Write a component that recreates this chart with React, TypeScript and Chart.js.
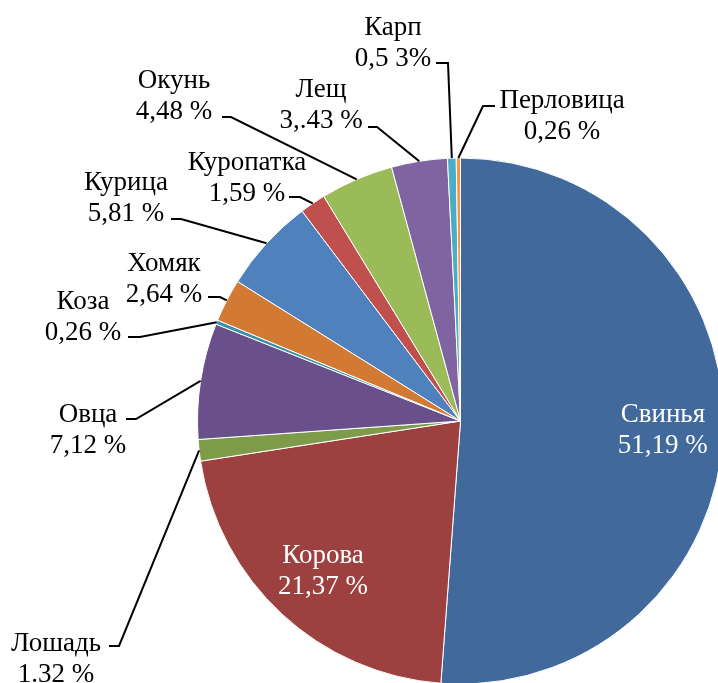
import React, { useEffect, useRef } from "react";
import { Chart, registerables } from "chart.js";

Chart.register(...registerables);

const categories = ["Свинья", "Корова", "Лошадь", "Овца", "Коза", "Хомяк", "Курица", "Куропатка", "Окунь", "Лещ", "Карп", "Перловица"];
const values = [51.19, 21.37, 1.32, 7.12, 0.26, 2.64, 5.81, 1.59, 4.48, 3.43, 0.53, 0.26];
const pctLabels = ["51,19 %", "21,37 %", "1.32 %", "7,12 %", "0,26 %", "2,64 %", "5,81 %", "1,59 %", "4,48 %", "3,.43 %", "0,5 3%", "0,26 %"];
const colors = ["#41699B", "#9C4140", "#7E9B4A", "#69508A", "#3B8FAB", "#D27A34", "#4F81BD", "#C0504D", "#9BBB59", "#8064A2", "#4BACC6", "#F79646"];

// label layout (pixels): text centre x, first baseline y, leader start x/y, elbow x
type Lay = { inside?: boolean; tx?: number; ty?: number; sx?: number; sy?: number; ex?: number };
const layout: Lay[] = [
  { inside: true },
  { inside: true },
  { tx: 56, ty: 651, sx: 109, sy: 646, ex: 119 },
  { tx: 88, ty: 422, sx: 126, sy: 419, ex: 136 },
  { tx: 83, ty: 309, sx: 128, sy: 337, ex: 140 },
  { tx: 164, ty: 271, sx: 208, sy: 297, ex: 220 },
  { tx: 126, ty: 190, sx: 171, sy: 219, ex: 181 },
  { tx: 247, ty: 170, sx: 289, sy: 197, ex: 300 },
  { tx: 174, ty: 88, sx: 222, sy: 117, ex: 231 },
  { tx: 321, ty: 97, sx: 368, sy: 127, ex: 377 },
  { tx: 393, ty: 35, sx: 436, sy: 63, ex: 448 },
  { tx: 562, ty: 108, sx: 495, sy: 106, ex: 483 },
];
const LINE = 31;
const FONT = "27px 'Liberation Serif', 'Times New Roman', serif";

const labelPlugin = {
  id: "pieLabels",
  afterDraw(chart: any) {
    const ctx = chart.ctx as CanvasRenderingContext2D;
    const meta = chart.getDatasetMeta(0);
    ctx.save();
    ctx.font = FONT;
    ctx.textAlign = "center";
    ctx.textBaseline = "alphabetic";
    meta.data.forEach((arc: any, i: number) => {
      const p = arc.getProps(["x", "y", "startAngle", "endAngle", "outerRadius"], true);
      const mid = (p.startAngle + p.endAngle) / 2;
      const lay = layout[i];
      if (lay.inside) {
        const r = p.outerRadius * 0.77;
        const cx = p.x + Math.cos(mid) * r;
        const cy = p.y + Math.sin(mid) * r;
        ctx.fillStyle = "#ffffff";
        ctx.fillText(categories[i], cx, cy - 7);
        ctx.fillText(pctLabels[i], cx, cy - 7 + LINE);
      } else {
        const ax = p.x + Math.cos(mid) * p.outerRadius;
        const ay = p.y + Math.sin(mid) * p.outerRadius;
        ctx.strokeStyle = "#000000";
        ctx.lineWidth = 2;
        ctx.beginPath();
        ctx.moveTo(lay.sx!, lay.sy!);
        ctx.lineTo(lay.ex!, lay.sy!);
        ctx.lineTo(ax, ay);
        ctx.stroke();
        ctx.fillStyle = "#000000";
        ctx.fillText(categories[i], lay.tx!, lay.ty!);
        ctx.fillText(pctLabels[i], lay.tx!, lay.ty! + LINE);
      }
    });
    ctx.restore();
  },
};

export default function App() {
  const ref = useRef<HTMLCanvasElement>(null);
  useEffect(() => {
    if (!ref.current) return;
    const chart = new Chart(ref.current, {
      type: "pie",
      data: {
        labels: categories,
        datasets: [
          {
            data: values,
            backgroundColor: colors,
            borderColor: "#ffffff",
            borderWidth: 1,
          },
        ],
      },
      options: {
        responsive: false,
        animation: false,
        layout: { padding: { left: 197, top: 157, right: 0, bottom: 0 } },
        plugins: {
          legend: { display: false },
          tooltip: { enabled: false },
        },
      },
      plugins: [labelPlugin],
    });
    return () => chart.destroy();
  }, []);
  return (
    <div style={{ position: "absolute", left: 0, top: 0, width: 718, height: 683, overflow: "hidden", background: "#fff" }}>
      <canvas ref={ref} width={724} height={685} style={{ display: "block" }} />
    </div>
  );
}
